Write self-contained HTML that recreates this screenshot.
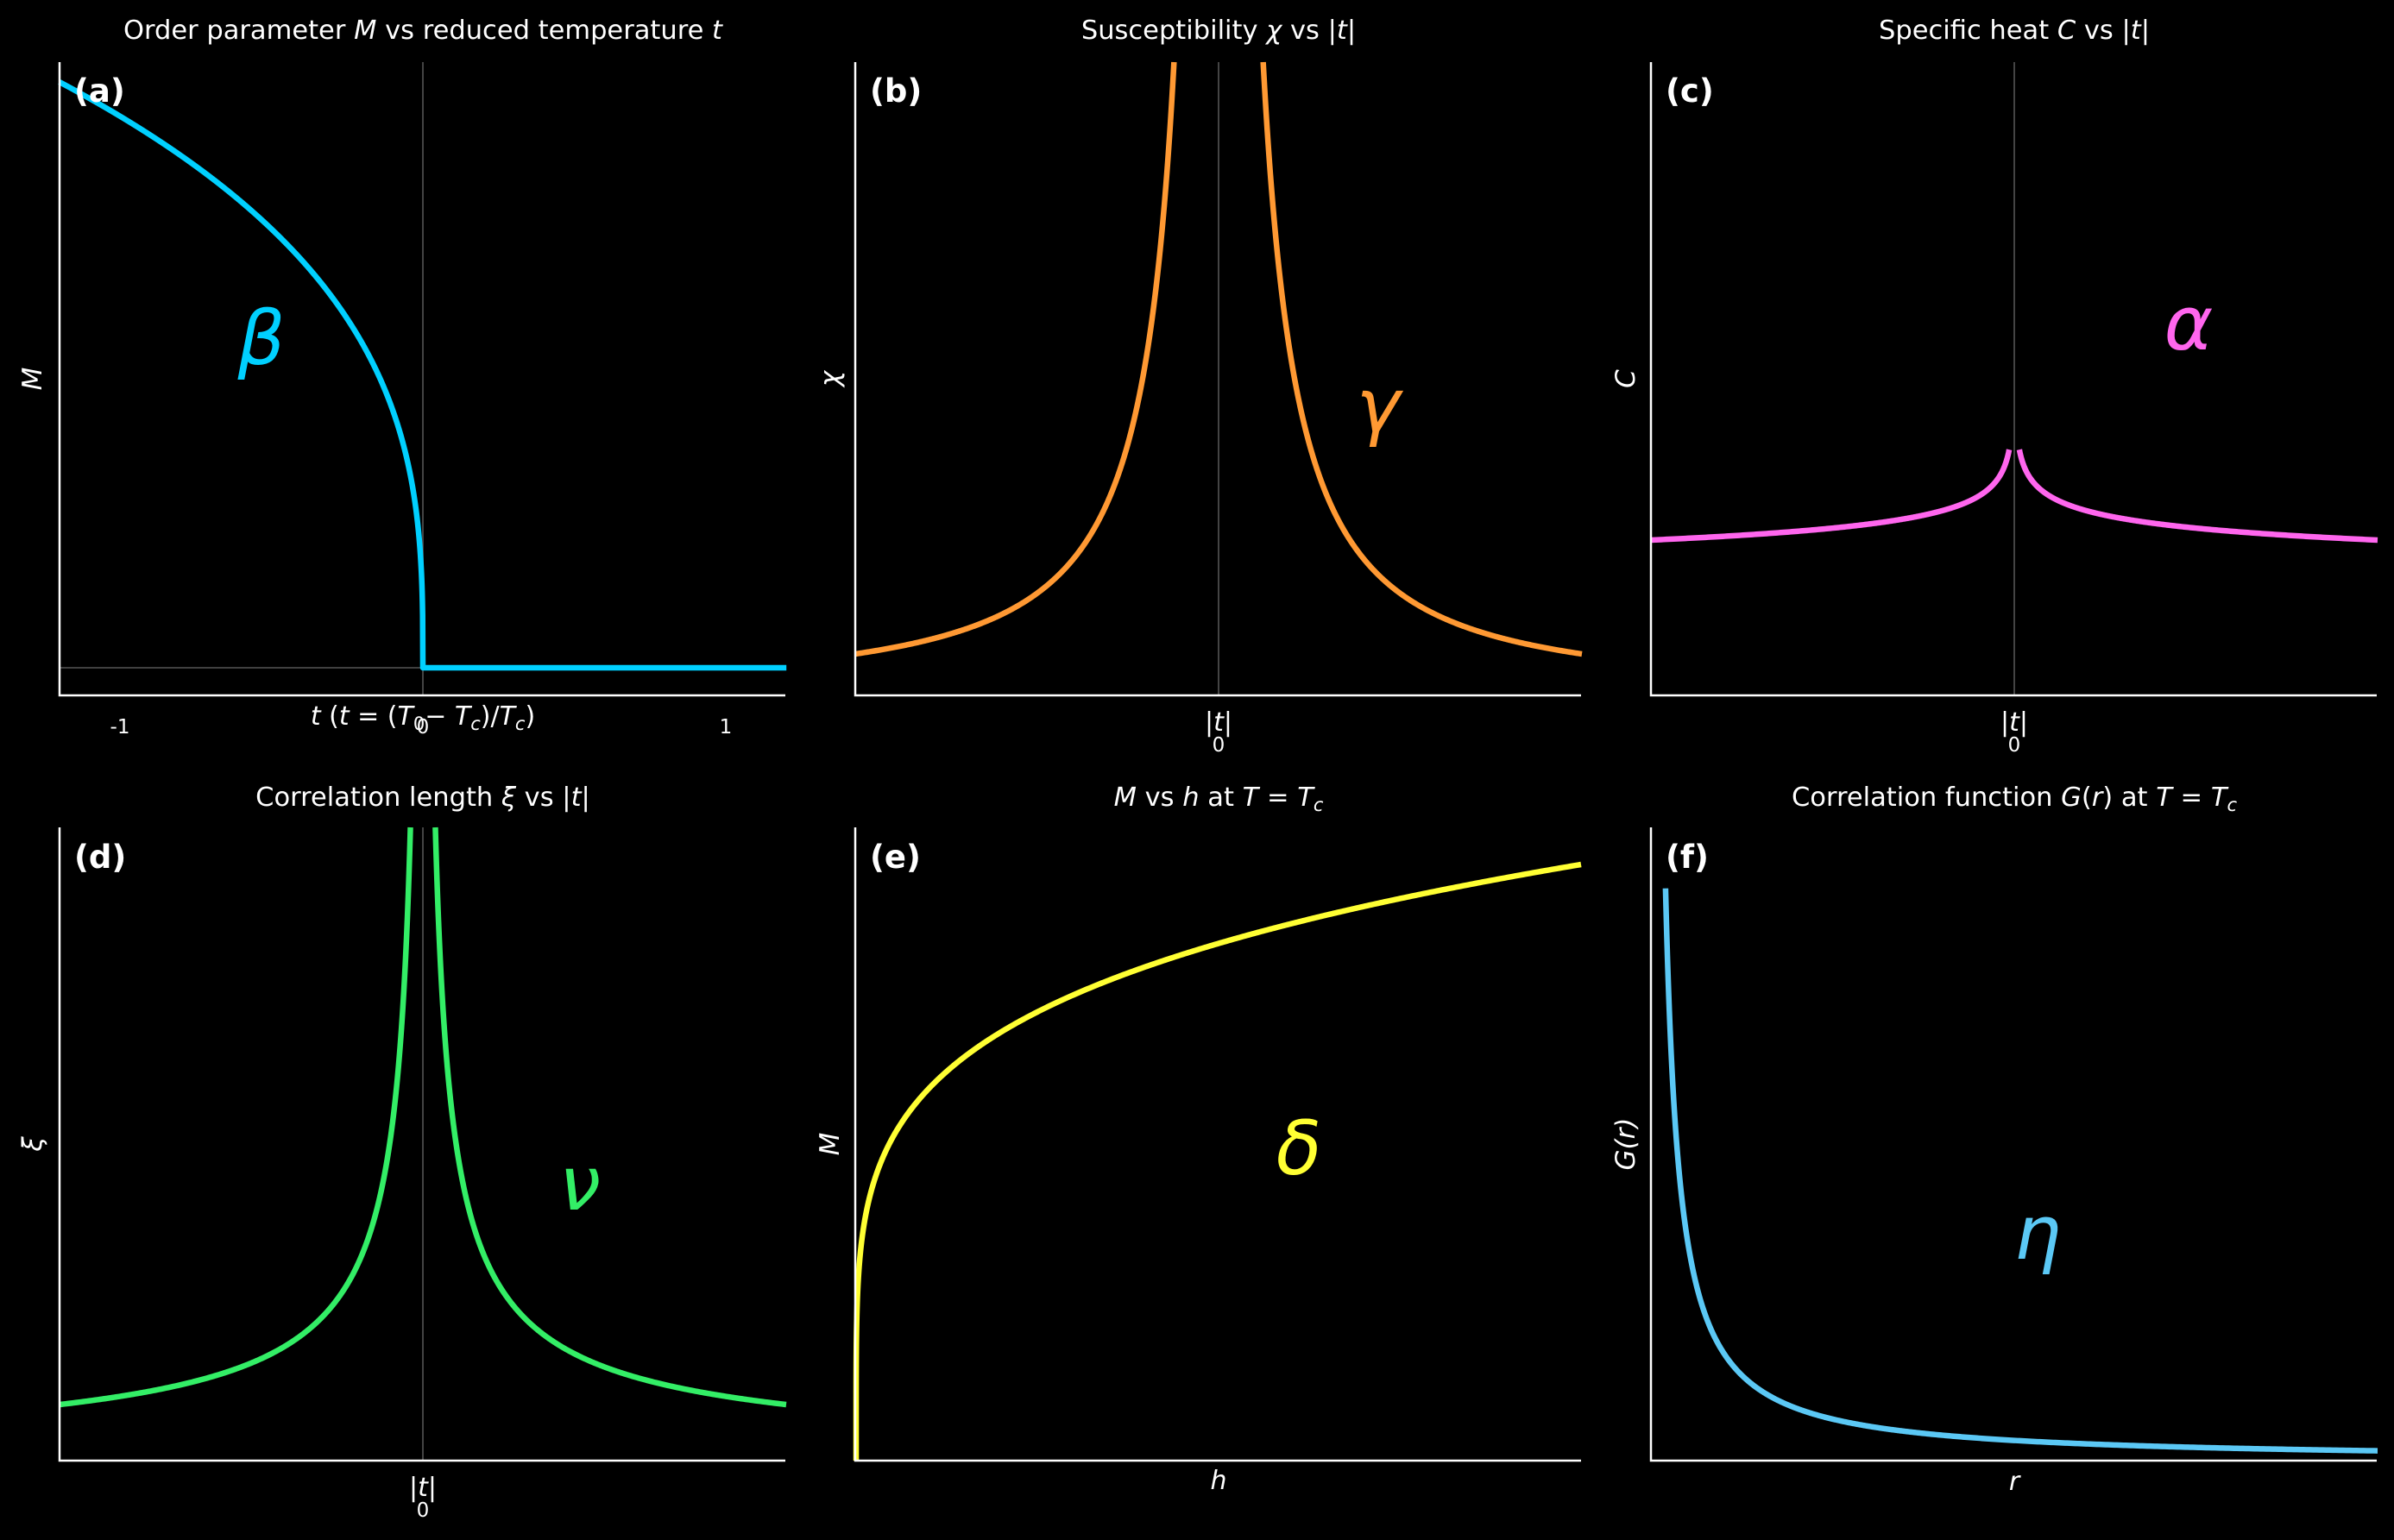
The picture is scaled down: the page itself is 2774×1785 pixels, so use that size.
<!DOCTYPE html>
<html><head><meta charset="utf-8"><style>
html,body{margin:0;padding:0;background:#000;}
svg{display:block}
text{font-family:"DejaVu Sans","Liberation Sans",sans-serif}
</style></head><body>
<svg id="s" width="2774" height="1785" viewBox="0 0 2774 1785" xmlns="http://www.w3.org/2000/svg">
<rect width="2774" height="1785" fill="#000"/>
<g stroke="#555" stroke-width="1.6">
<line x1="490" y1="72" x2="490" y2="806"/>
<line x1="69" y1="774" x2="910" y2="774"/>
<line x1="1412" y1="72" x2="1412" y2="806"/>
<line x1="2334" y1="72" x2="2334" y2="806"/>
<line x1="490" y1="959" x2="490" y2="1693"/>
</g>
<g id="curves" fill="none" stroke-width="6.5" stroke-linejoin="round"></g>
<g stroke="#fff" stroke-width="2.5" fill="none">
<path d="M69 72 V806 H910"/>
<path d="M991 72 V806 H1832"/>
<path d="M1913 72 V806 H2754"/>
<path d="M69 959 V1693 H910"/>
<path d="M991 959 V1693 H1832"/>
<path d="M1913 959 V1693 H2754"/>
</g>
<g font-size="30.5" text-anchor="middle" fill="#fff">
<text x="490" y="45">Order parameter <tspan font-style="italic">M</tspan> vs reduced temperature <tspan font-style="italic">t</tspan></text>
<text x="1412" y="45">Susceptibility <tspan font-style="italic">χ</tspan> vs |<tspan font-style="italic">t</tspan>|</text>
<text x="2334" y="45">Specific heat <tspan font-style="italic">C</tspan> vs |<tspan font-style="italic">t</tspan>|</text>
<text x="490" y="934">Correlation length <tspan font-style="italic">ξ</tspan> vs |<tspan font-style="italic">t</tspan>|</text>
<text x="1412" y="934"><tspan font-style="italic">M</tspan> vs <tspan font-style="italic">h</tspan> at <tspan font-style="italic">T</tspan> = <tspan font-style="italic">T</tspan><tspan font-style="italic" font-size="21" dy="6">c</tspan></text>
<text x="2334" y="934">Correlation function <tspan font-style="italic">G</tspan>(<tspan font-style="italic">r</tspan>) at <tspan font-style="italic">T</tspan> = <tspan font-style="italic">T</tspan><tspan font-style="italic" font-size="21" dy="6">c</tspan></text>
</g>
<g font-size="37" font-weight="bold" fill="#fff">
<text x="86" y="118">(a)</text><text x="1008" y="118">(b)</text><text x="1930" y="118">(c)</text>
<text x="86" y="1006">(d)</text><text x="1008" y="1006">(e)</text><text x="1930" y="1006">(f)</text>
</g>
<g font-size="31" font-style="italic" text-anchor="middle" fill="#fff">
<text transform="translate(48,439) rotate(-90)">M</text>
<text transform="translate(972,439) rotate(-90)">χ</text>
<text transform="translate(1894,439) rotate(-90)">C</text>
<text transform="translate(48,1326) rotate(-90)">ξ</text>
<text transform="translate(972,1326) rotate(-90)">M</text>
<text transform="translate(1894,1326) rotate(-90)">G(r)</text>
</g>
<g font-size="30" text-anchor="middle" fill="#fff">
<text x="490" y="840"><tspan font-style="italic">t</tspan> (<tspan font-style="italic">t</tspan> = (<tspan font-style="italic">T</tspan><tspan font-size="21" dy="6">0</tspan><tspan dy="-6">− </tspan><tspan font-style="italic">T</tspan><tspan font-style="italic" font-size="21" dy="6">c</tspan><tspan dy="-6">)/</tspan><tspan font-style="italic">T</tspan><tspan font-style="italic" font-size="21" dy="6">c</tspan><tspan dy="-6">)</tspan></text>
<text x="1412" y="847">|<tspan font-style="italic">t</tspan>|</text>
<text x="2334" y="847">|<tspan font-style="italic">t</tspan>|</text>
<text x="490" y="1734">|<tspan font-style="italic">t</tspan>|</text>
<text x="1412" y="1726" font-style="italic">h</text>
<text x="2334" y="1727" font-style="italic">r</text>
</g>
<g font-size="23" text-anchor="middle" fill="#fff">
<text x="139" y="850">-1</text><text x="490" y="850">0</text><text x="841" y="850">1</text>
<text x="1412" y="871">0</text><text x="2334" y="871">0</text><text x="490" y="1758">0</text>
</g>
<g font-size="86" font-style="italic" text-anchor="middle">
<text x="303" y="422" fill="#00d0ff">β</text>
<text x="1597" y="500" fill="#ff9933">γ</text>
<text x="2536" y="405" fill="#ff66ee">α</text>
<text x="672" y="1402" fill="#33ee66">ν</text>
<text x="1505" y="1361" fill="#ffff33">δ</text>
<text x="2361" y="1459" fill="#5bc8f5">η</text>
</g>
</svg>
<script>
(function(){
var g=document.getElementById('curves'),NS='http://www.w3.org/2000/svg';
function add(pts,c){var d='M'+pts.map(function(p){return p[0].toFixed(2)+' '+p[1].toFixed(2)}).join(' L');
var e=document.createElementNS(NS,'path');e.setAttribute('d',d);e.setAttribute('stroke',c);g.appendChild(e);}
var p=[],i,t,f;
for(i=0;i<=3000;i++){t=-1.2+2.4*i/3000;var y=t<0?774-679*Math.pow(-t/1.2,0.33):774;p.push([490+t*351,y]);}
add(p,'#00d0ff');
function sym(cx,fn,fmin,c){var L=[],R=[],k,ff;for(k=0;k<=600;k++){ff=fmin*Math.pow(1/fmin,k/600);R.push([cx+421*ff,fn(ff)]);L.push([cx-421*ff,fn(ff)]);}
add(L,c);add(R,c);}
sym(1412,function(f){return 806-48*Math.pow(f,-1.3)},Math.pow(734/48,-1/1.3),'#ff9933');
sym(2334,function(f){return 626-175*(Math.pow(f,-0.11)-1)},0.014,'#ff66ee');
sym(490,function(f){return 1693-(-4.7+69.7*Math.pow(f,-0.7))},Math.pow((734+4.7)/69.7,-1/0.7),'#33ee66');
p=[];for(i=0;i<=800;i++){f=Math.pow(i/800,3);p.push([992+840*f,1693-691*Math.pow(f,0.205)]);}
add(p,'#ffff33');
p=[];for(i=0;i<=800;i++){var o=16.9*Math.pow(842/16.9,i/800);p.push([1913+o,1693-11.4*Math.pow(o/841,-1.04)]);}
add(p,'#5bc8f5');
})();
</script>
</body></html>
